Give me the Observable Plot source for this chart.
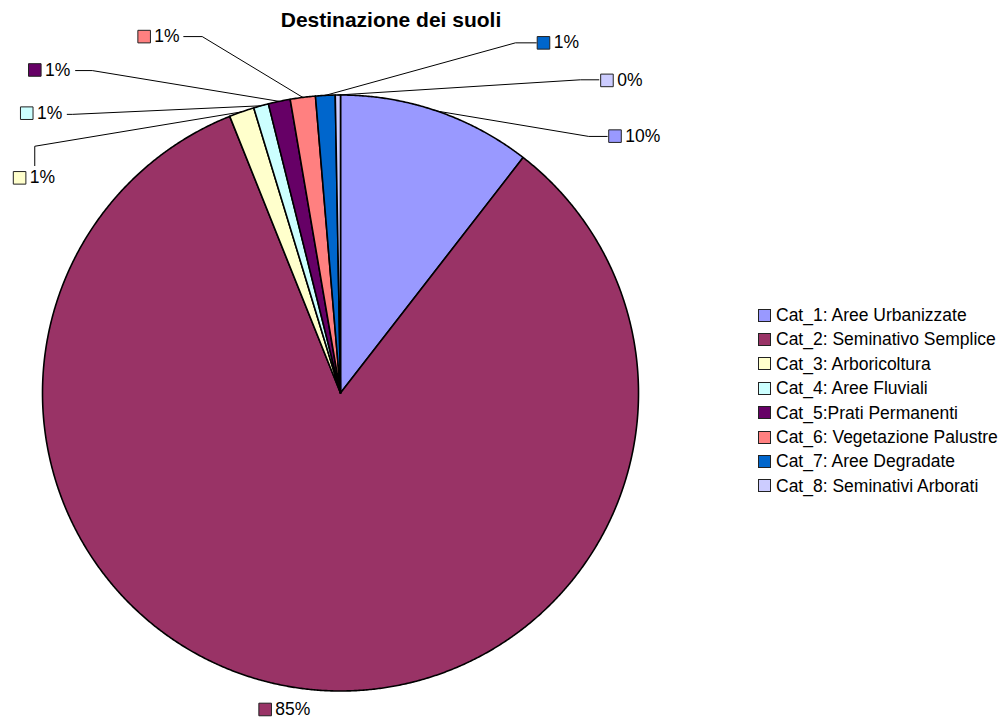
<!DOCTYPE html>
<html><head><meta charset="utf-8">
<script src="https://cdn.jsdelivr.net/npm/d3@7"></script>
<script src="https://cdn.jsdelivr.net/npm/@observablehq/plot@0.6"></script>
<style>
body{margin:0;background:#fff;font-family:Arial,"Liberation Sans",sans-serif;}
#wrap{position:relative;width:1007px;height:720px;overflow:hidden;}
#chart{position:absolute;left:0;top:0;}
#title{position:absolute;left:0;top:9px;width:782px;text-align:center;font-weight:bold;font-size:21px;line-height:21px;color:#000;}
#legend{position:absolute;left:758px;top:303px;}
.row{display:flex;align-items:center;height:24.4px;line-height:24.4px;font-size:17.5px;white-space:nowrap;color:#000;}
.sw{width:11px;height:11px;border:1px solid #222;margin-right:5px;flex:none;}
</style></head>
<body>
<div id="wrap">
  <div id="chart"></div>
  <div id="title">Destinazione dei suoli</div>
  <div id="legend"></div>
</div>
<script>
// ---- data ----
const categories = ["Cat_1","Cat_2","Cat_3","Cat_4","Cat_5","Cat_6","Cat_7","Cat_8"];
const legendLabels = [
  "Cat_1: Aree Urbanizzate",
  "Cat_2: Seminativo Semplice",
  "Cat_3: Arboricoltura",
  "Cat_4: Aree Fluviali",
  "Cat_5:Prati Permanenti",
  "Cat_6: Vegetazione Palustre",
  "Cat_7: Aree Degradate",
  "Cat_8: Seminativi Arborati"
];
const values = [10.5, 83.44, 1.36, 0.81, 1.19, 1.36, 1.06, 0.28];
const pctLabels = ["10%","85%","1%","1%","1%","1%","1%","0%"];
const colors = ["#9999FF","#993366","#FFFFCC","#CCFFFF","#660066","#FF8080","#0066CC","#CCCCFF"];

// ---- label layout (in pie-radius units, centre of pie = 0,0) ----
const labelX  = [0.900, -0.274, -1.098, -1.074, -1.047, -0.680, 0.660, 0.873];
const labelY  = [0.862, -1.062,  0.722,  0.939,  1.084,  1.196, 1.175, 1.049];
const elbowX  = [0.833, null, -1.026, -0.900, -0.833, -0.464, 0.587, 0.805];
const elbowY  = [0.861, null,  0.828,  0.935,  1.082,  1.196, 1.175, 1.051];
const attachX = [0.895, null, -1.026, -0.917, -0.889, -0.526, 0.657, 0.867];
const attachY = [0.861, null,  0.763,  0.935,  1.082,  1.196, 1.175, 1.051];

// ---- geometry from data ----
const arcs = d3.pie().sort(null).value(d => d)(values);
const slices = arcs.map((a, i) => {
  const pts = [{x: 0, y: 0}];
  const n = Math.max(2, Math.ceil((a.endAngle - a.startAngle) / 0.005));
  for (let k = 0; k <= n; k++) {
    const t = a.startAngle + (a.endAngle - a.startAngle) * k / n;
    pts.push({x: Math.sin(t), y: Math.cos(t)});
  }
  return pts;
});

const leaders = [];
arcs.forEach((a, i) => {
  if (elbowX[i] == null) return;
  const m = (a.startAngle + a.endAngle) / 2;
  leaders.push({cat: categories[i], x: Math.sin(m), y: Math.cos(m)});
  leaders.push({cat: categories[i], x: elbowX[i], y: elbowY[i]});
  leaders.push({cat: categories[i], x: attachX[i], y: attachY[i]});
});

const labels = categories.map((c, i) => ({cat: c, x: labelX[i], y: labelY[i], pct: pctLabels[i], color: colors[i]}));

const R = 298, W = 1007, H = 720, CX = 340, CY = 392.5;

const chart = Plot.plot({
  width: W, height: H,
  margin: 0,
  x: {domain: [-CX / R, (W - CX) / R], axis: null},
  y: {domain: [-(H - CY) / R, CY / R], axis: null},
  color: {type: "identity"},
  style: {background: "transparent", fontFamily: "Arial, 'Liberation Sans', sans-serif"},
  marks: [
    ...slices.map((pts, i) => Plot.line(pts, {x: "x", y: "y", fill: colors[i], stroke: "#000", strokeWidth: 1.6, strokeLinejoin: "round", curve: "linear-closed"})),
    Plot.line(leaders, {x: "x", y: "y", z: "cat", stroke: "#000", strokeWidth: 1}),
    Plot.dot(labels, {x: "x", y: "y", symbol: "square", r: 7.1, fill: "color", stroke: "#222", strokeWidth: 1, dx: 6.3}),
    Plot.text(labels, {x: "x", y: "y", text: "pct", textAnchor: "start", dx: 16.5, fontSize: 17.5, fill: "#000"})
  ]
});
document.getElementById("chart").appendChild(chart);

const legend = document.getElementById("legend");
legendLabels.forEach((t, i) => {
  const row = document.createElement("div");
  row.className = "row";
  const sw = document.createElement("div");
  sw.className = "sw";
  sw.style.background = colors[i];
  const tx = document.createElement("span");
  tx.textContent = t;
  row.appendChild(sw); row.appendChild(tx);
  legend.appendChild(row);
});
</script>
</body></html>
